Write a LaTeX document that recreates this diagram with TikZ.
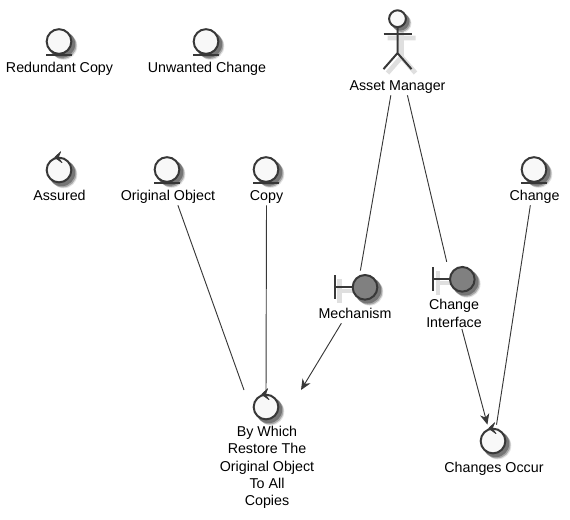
\documentclass[tikz,border=0pt]{standalone}
\usepackage{fontspec}
\setmainfont{Liberation Sans}
\usetikzlibrary{arrows.meta,shadows}
\definecolor{ink}{HTML}{383838}
\definecolor{paper}{HTML}{F8F8F8}
\definecolor{dotgray}{HTML}{808080}
\begin{document}
\begin{tikzpicture}[x=.75pt,y=-.75pt]
	\tikzset{softshadow/.style = {general shadow={shadow xshift=1.8pt,shadow yshift=-1.8pt,shadow scale=1.1,fill=black,opacity=.3},general shadow={shadow xshift=2.6pt,shadow yshift=-2.6pt,shadow scale=1.1,fill=black,opacity=.25},general shadow={shadow xshift=3.2pt,shadow yshift=-3.2pt,shadow scale=1.1,fill=black,opacity=.12}}}
	\tikzset{glyph/.style = {shape=circle,draw=ink,line width=1.5pt,fill=paper,inner sep=0pt,minimum size=18.5pt,softshadow}}
	\tikzset{actorhead/.style = {glyph,minimum size=12.6pt}}
	\tikzset{boundarydot/.style = {glyph,fill=dotgray}}
	\tikzset{caption/.style = {align=center,inner xsep=0pt,inner ysep=1pt,font=\fontsize{10.7}{13}\selectfont}}
	\tikzset{oneline/.style = {caption,text height=10.5pt,text depth=2.5pt}}
	\tikzset{strokeline/.style = {draw=ink,line width=1.5pt}}
	\tikzset{shadowline/.style = {draw=black!15,line width=3.5pt,opacity=.85}}
	\tikzset{wire/.style = {draw=ink,line width=.7pt}}
	\tikzset{arrowwire/.style = {wire,-{Stealth[length=8pt,width=7pt,inset=2.5pt]}}}
	\useasboundingbox (0,0) rectangle (570,519);

	% entities
	\node[glyph] (redundant) at (59,41.5) {};
	\node[glyph] (unwanted) at (206,41.5) {};
	\node[glyph] (original) at (167,169.5) {};
	\node[glyph] (copy) at (266,169.5) {};
	\node[glyph] (change) at (534,169.5) {};
	\foreach \n in {redundant,unwanted,original,copy,change}
		\draw[strokeline,line width=1.2pt] (\n.center) ++(-13,13.6) -- ++(26,0);

	% controls
	\node[glyph] (assured) at (59,170) {};
	\node[glyph] (restore) at (266,407) {};
	\node[glyph] (occur) at (493,441) {};
	\foreach \n in {assured,restore,occur}
		\filldraw[ink,line width=.5pt,line join=round] (\n.center) ++(1.7,-18.3) -- ++(-6,5.6) -- ++(7.3,5.4) -- ++(-3.7,-5.4) -- cycle;

	% actor
	\begin{scope}[shift={(4,4)}]
		\draw[shadowline] (397.5,27) -- (397.5,53) (383.5,34) -- (411.5,34) (383.5,69) -- (397.5,53) -- (411.5,69);
	\end{scope}
	\node[actorhead] (asset) at (397.5,18.7) {};
	\draw[strokeline] (asset.south) -- ++(0,25) -- ++(-14,16) (asset.south) ++(0,25) -- ++(14,16);
	\draw[strokeline] (asset.south) ++(-14,6) -- ++(28,0);

	% boundaries
	\draw[shadowline] (339.5,279) -- (339.5,303) (339.5,291) -- (356,291);
	\draw[shadowline] (438,271) -- (438,295) (438,283) -- (453,283);
	\node[boundarydot] (mechdot) at (365,287.3) {};
	\node[boundarydot] (changedot) at (462.3,279.3) {};
	\draw[strokeline] (mechdot.west) -- ++(-17,0) ++(0,-12) -- ++(0,24);
	\draw[strokeline] (changedot.west) -- ++(-16,0) ++(0,-12) -- ++(0,24);

	% labels
	\node[oneline] (redundantlabel) at (59.5,67) {Redundant Copy};
	\node[oneline] (unwantedlabel) at (207,67) {Unwanted Change};
	\node[oneline] (assetlabel) at (397.5,85) {Asset Manager};
	\node[oneline] (assuredlabel) at (59.5,195) {Assured};
	\node[oneline] (originallabel) at (168,195) {Original Object};
	\node[oneline] (copylabel) at (266.5,195) {Copy};
	\node[oneline] (changelabel) at (534.5,195) {Change};
	\node[oneline] (mechlabel) at (355,313) {Mechanism};
	\node[caption] (changedotlabel) at (454,313.5) {Change\\Interface};
	\node[caption] (restorelabel) at (267,467.5) {By Which\\Restore The\\Original Object\\To All\\Copies};
	\node[oneline] (occurlabel) at (494,467) {Changes Occur};

	\coordinate (restoreleft) at (244,390);
	\coordinate (restoreright) at (301,390);

	% connectors
	\draw[wire,shorten >=3.4pt] (assetlabel.237) -- (mechdot.114);
	\draw[wire,shorten >=10pt] (assetlabel.314) -- (changedot.160);
	\draw[wire] (originallabel.314) -- (restoreleft);
	\draw[wire] (copylabel.south) -- (restore.north);
	\draw[arrowwire] (mechlabel.217) -- (restoreright);
	\draw[arrowwire,shorten >=3pt] (changedotlabel.297) -- (occur.110);
	\draw[wire,shorten >=2.5pt] (changelabel.248) -- (occur.77);
\end{tikzpicture}
\end{document}
